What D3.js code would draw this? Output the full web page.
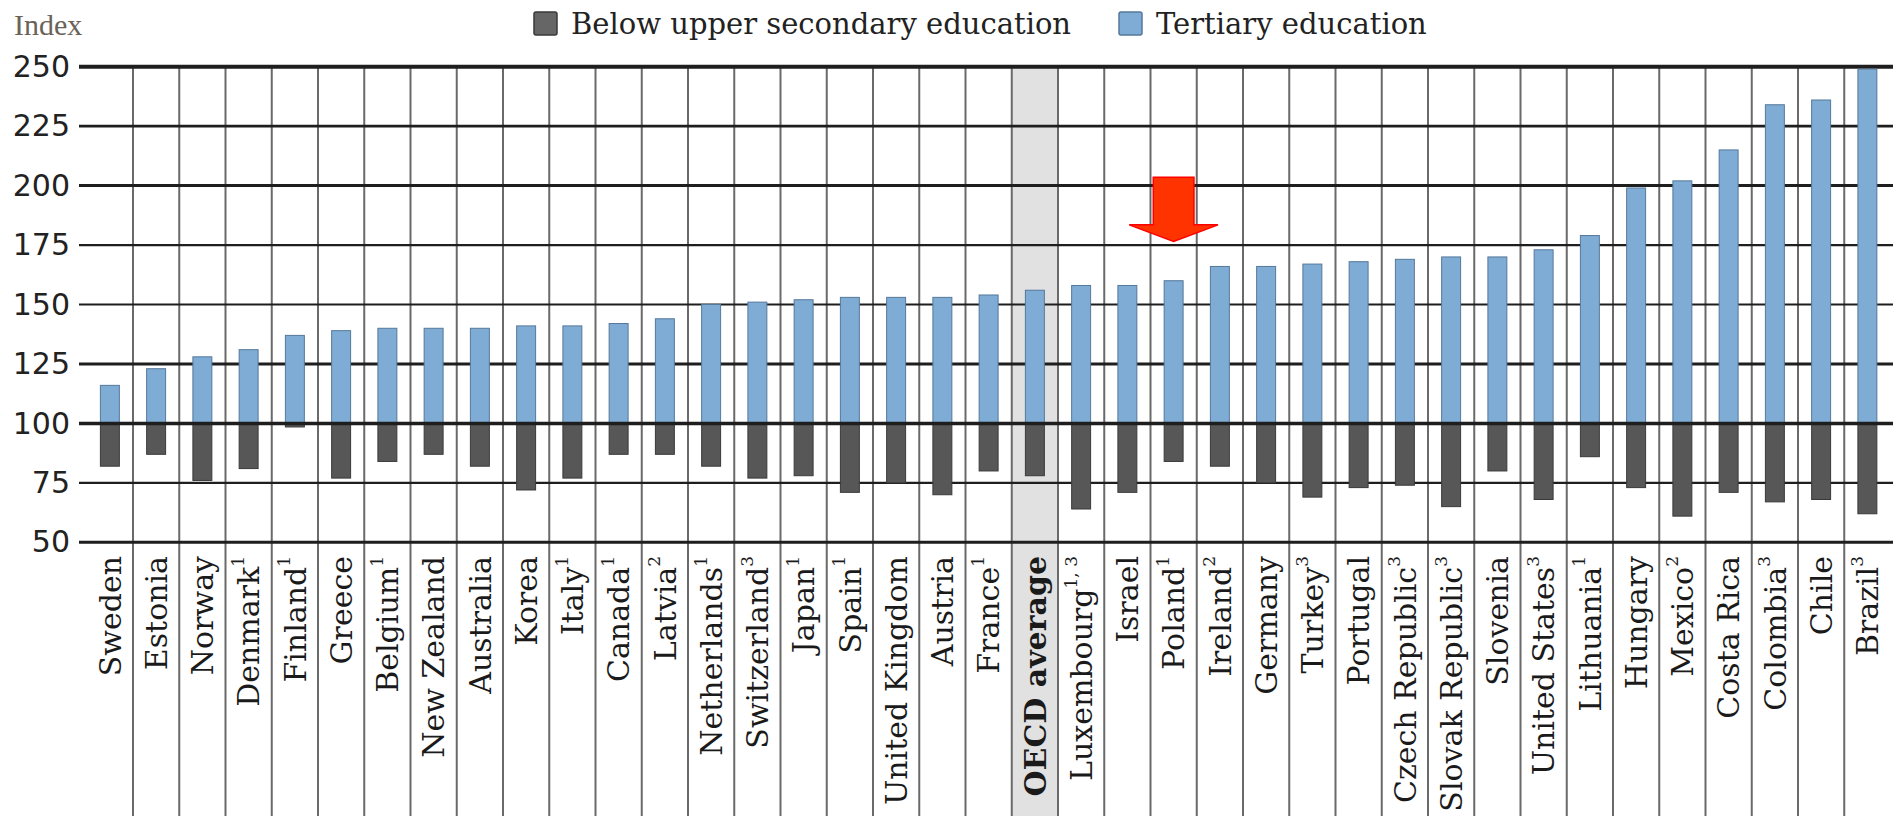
<!DOCTYPE html>
<html>
<head>
<meta charset="utf-8">
<script src="https://cdn.jsdelivr.net/npm/d3@7"></script>
<style>
body { margin: 0; background: #fff; }
svg { display: block; }
.yaxis text { font: 30px "DejaVu Sans", sans-serif; fill: #222; }
.xlab { font: 30px "DejaVu Serif", serif; fill: #1a1a1a; }
.legend text { font: 29px "DejaVu Serif", serif; fill: #222; }
.unit { font: 30px "Liberation Serif", serif; fill: #6b6258; }
</style>
</head>
<body>
<svg id="chart"></svg>
<script>
var width = 1893, height = 816;

// countries, sorted by tertiary index
var categories = ["Sweden", "Estonia", "Norway", "Denmark", "Finland", "Greece", "Belgium",
  "New Zealand", "Australia", "Korea", "Italy", "Canada", "Latvia", "Netherlands",
  "Switzerland", "Japan", "Spain", "United Kingdom", "Austria", "France", "OECD average",
  "Luxembourg", "Israel", "Poland", "Ireland", "Germany", "Turkey", "Portugal",
  "Czech Republic", "Slovak Republic", "Slovenia", "United States", "Lithuania",
  "Hungary", "Mexico", "Costa Rica", "Colombia", "Chile", "Brazil"];

var notes = ["", "", "", "1", "1", "", "1", "", "", "", "1", "1", "2", "1",
  "3", "1", "1", "", "", "1", "",
  "1, 3", "", "1", "2", "", "3", "",
  "3", "3", "", "3", "1",
  "", "2", "", "3", "", "3"];

var tertiary = [116, 123, 128, 131, 137, 139, 140, 140, 140, 141, 141, 142, 144, 150,
  151, 152, 153, 153, 153, 154, 156, 158, 158, 160, 166, 166, 167, 168,
  169, 170, 170, 173, 179, 199, 202, 215, 234, 236, 249];

var belowUpper = [82, 87, 76, 81, 98.5, 77, 84, 87, 82, 72, 77, 87, 87, 82,
  77, 78, 71, 75, 70, 80, 78, 64, 71, 84, 82, 75, 69, 73,
  74, 65, 80, 68, 86, 73, 61, 71, 67, 68, 62];

var yTicks = [50, 75, 100, 125, 150, 175, 200, 225, 250];

var seriesNames = ["Below upper secondary education", "Tertiary education"];
var seriesColors = ["#575757", "#7eacd5"];
var seriesStroke = ["#3a3a3a", "#55789a"];

var highlight = "OECD average";
var arrowTarget = "Poland";
var arrowLevels = [203.5, 183.5, 176.5];   // shaft top, head shoulder, tip

var x = d3.scaleBand().domain(categories).range([86.75, 1890.5]).padding(0);
var y = d3.scaleLinear().domain([50, 250]).range([542.3, 66.7]);
var barW = x.bandwidth() * 0.41;

// grid weights as they come out in the scan
function gridWidth(t) {
  if (t == 250) return 4;
  if (t == 175 || t == 150 || t == 75) return 2.2;
  if (t == 225) return 2.6;
  return 3;
}

var svg = d3.select("#chart").attr("width", width).attr("height", height);

// highlighted band
svg.append("rect")
  .attr("x", x(highlight)).attr("y", y(250))
  .attr("width", x.bandwidth()).attr("height", height - y(250))
  .attr("fill", "#e1e1e1");

// vertical separators
svg.append("g").selectAll("line")
  .data(categories.slice(1))
.enter().append("line")
  .attr("x1", function(d) { return x(d); })
  .attr("x2", function(d) { return x(d); })
  .attr("y1", y(250)).attr("y2", height)
  .attr("stroke", "#6a6a6a").attr("stroke-width", 2);

// horizontal grid
svg.append("g").selectAll("line")
  .data(yTicks.filter(function(t) { return t != 100; }))
.enter().append("line")
  .attr("x1", 79).attr("x2", width)
  .attr("y1", function(d) { return y(d); })
  .attr("y2", function(d) { return y(d); })
  .attr("stroke", "#1e1e1e")
  .attr("stroke-width", gridWidth);

// y axis labels
var yAxis = svg.append("g").attr("class", "yaxis")
  .attr("transform", "translate(79,0)")
  .call(d3.axisLeft(y).tickValues(yTicks).tickSize(0).tickPadding(9));
yAxis.select(".domain").remove();
yAxis.selectAll("text").style("font", null).attr("fill", "#222");

// bars
var rows = categories.map(function(c, i) { return { c: c, lo: belowUpper[i], hi: tertiary[i] }; });

svg.append("g").selectAll("rect")
  .data(rows)
.enter().append("rect")
  .attr("x", function(d) { return x(d.c) + (x.bandwidth() - barW) / 2; })
  .attr("y", y(100))
  .attr("width", barW)
  .attr("height", function(d) { return y(d.lo) - y(100); })
  .attr("fill", seriesColors[0]).attr("stroke", seriesStroke[0]).attr("stroke-width", 1);

svg.append("g").selectAll("rect")
  .data(rows)
.enter().append("rect")
  .attr("x", function(d) { return x(d.c) + (x.bandwidth() - barW) / 2; })
  .attr("y", function(d) { return y(d.hi); })
  .attr("width", barW)
  .attr("height", function(d) { return y(100) - y(d.hi); })
  .attr("fill", seriesColors[1]).attr("stroke", seriesStroke[1]).attr("stroke-width", 1);

// baseline at 100 sits on top of the bars
svg.append("line")
  .attr("x1", 79).attr("x2", width)
  .attr("y1", y(100)).attr("y2", y(100))
  .attr("stroke", "#1e1e1e").attr("stroke-width", 3.5);

// category labels
var labels = svg.append("g").selectAll("text")
  .data(categories)
.enter().append("text")
  .attr("class", "xlab")
  .attr("transform", function(d) { return "translate(" + (x(d) + x.bandwidth() / 2) + ",556) rotate(-90)"; })
  .attr("text-anchor", "end")
  .attr("dy", "0.36em")
  .style("font-weight", function(d) { return d == highlight ? "bold" : null; });

labels.append("tspan").text(function(d) { return d; });
labels.append("tspan")
  .attr("font-size", "17px")
  .attr("dy", "-0.9em")
  .text(function(d, i) { return notes[i]; });

// arrow over Poland
var ax = x(arrowTarget) + x.bandwidth() / 2, bw = x.bandwidth();
var ap = d3.path();
ap.moveTo(ax - bw * 0.44, y(arrowLevels[0]));
ap.lineTo(ax + bw * 0.44, y(arrowLevels[0]));
ap.lineTo(ax + bw * 0.44, y(arrowLevels[1]));
ap.lineTo(ax + bw * 0.96, y(arrowLevels[1]));
ap.lineTo(ax, y(arrowLevels[2]));
ap.lineTo(ax - bw * 0.96, y(arrowLevels[1]));
ap.lineTo(ax - bw * 0.44, y(arrowLevels[1]));
ap.closePath();
svg.append("path").attr("d", ap.toString())
  .attr("fill", "#ff3300").attr("stroke", "#ff0000").attr("stroke-width", 1.5);

// unit label
svg.append("text").attr("class", "unit").attr("x", 14).attr("y", 35).text("Index");

// legend
var legend = svg.append("g").attr("class", "legend");
var legX = [534, 1119];
seriesNames.forEach(function(name, i) {
  legend.append("rect")
    .attr("x", legX[i]).attr("y", 12).attr("width", 23).attr("height", 23)
    .attr("rx", 2)
    .attr("fill", i == 0 ? "#666" : seriesColors[1])
    .attr("stroke", seriesStroke[i]).attr("stroke-width", 1.5);
  legend.append("text").attr("x", legX[i] + 37).attr("y", 34).text(name);
});
</script>
</body>
</html>
